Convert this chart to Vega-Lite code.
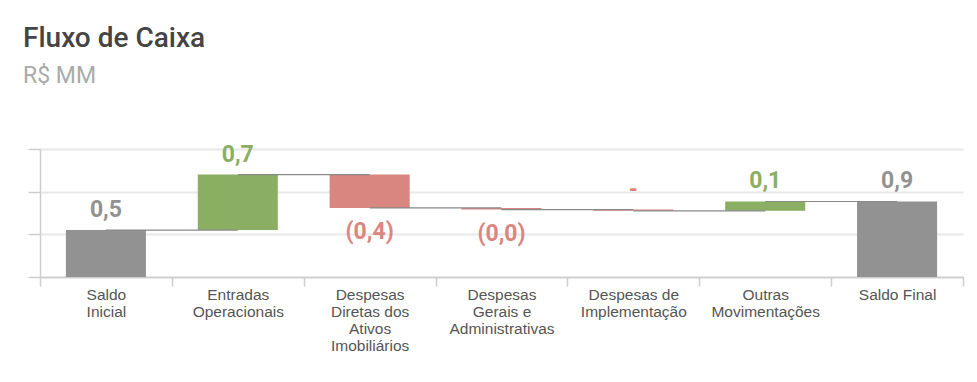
{
  "$schema": "https://vega.github.io/schema/vega-lite/v6.json",
  "width": 923,
  "height": 128,
  "padding": {"left": 23, "top": 24, "right": 14, "bottom": 5},
  "background": "white",
  "title": {
    "text": "Fluxo de Caixa",
    "subtitle": "R$ MM",
    "anchor": "start",
    "frame": "group",
    "dx": -17,
    "offset": 56,
    "font": "Roboto",
    "fontSize": 28,
    "fontWeight": 500,
    "color": "#444444",
    "subtitleFont": "Roboto",
    "subtitleFontSize": 23,
    "subtitleColor": "#aaaaaa",
    "subtitlePadding": 12
  },
  "data": {
    "values": [
      {"categoria": "Saldo\nInicial", "next": "Entradas\nOperacionais", "start": 0, "end": 0.55, "label": "0,5", "tipo": "total"},
      {"categoria": "Entradas\nOperacionais", "next": "Despesas\nDiretas dos\nAtivos\nImobiliários", "start": 0.55, "end": 1.2, "label": "0,7", "tipo": "entrada"},
      {"categoria": "Despesas\nDiretas dos\nAtivos\nImobiliários", "next": "Despesas\nGerais e\nAdministrativas", "start": 1.2, "end": 0.81, "label": "(0,4)", "tipo": "saida"},
      {"categoria": "Despesas\nGerais e\nAdministrativas", "next": "Despesas de\nImplementação", "start": 0.81, "end": 0.79, "label": "(0,0)", "tipo": "saida"},
      {"categoria": "Despesas de\nImplementação", "next": "Outras\nMovimentações", "start": 0.79, "end": 0.775, "label": "-", "tipo": "saida"},
      {"categoria": "Outras\nMovimentações", "next": "Saldo Final", "start": 0.775, "end": 0.885, "label": "0,1", "tipo": "entrada"},
      {"categoria": "Saldo Final", "next": null, "start": 0, "end": 0.885, "label": "0,9", "tipo": "total"}
    ]
  },
  "encoding": {
    "x": {
      "field": "categoria",
      "type": "nominal",
      "sort": null,
      "scale": {"paddingInner": 0, "paddingOuter": 0},
      "axis": {
        "title": null,
        "labelAngle": 0,
        "labelExpr": "split(datum.label, '\\n')",
        "labelFont": "Liberation Sans",
        "labelFontSize": 15.5,
        "labelColor": "#555555",
        "labelLineHeight": 17,
        "labelPadding": 1,
        "tickBand": "extent",
        "tickSize": 9,
        "tickColor": "#cccccc",
        "tickWidth": 1.5,
        "domainColor": "#cccccc",
        "domainWidth": 1.5,
        "grid": false
      }
    }
  },
  "layer": [
    {
      "mark": {"type": "bar", "width": {"band": 0.607}},
      "encoding": {
        "y": {
          "field": "start",
          "type": "quantitative",
          "scale": {"domain": [0, 1.5], "nice": false},
          "axis": {
            "title": null,
            "labels": false,
            "values": [0, 0.5, 1, 1.5],
            "grid": true,
            "gridColor": "#e8e8e8",
            "gridWidth": 2,
            "tickSize": 12,
            "tickColor": "#cccccc",
            "tickWidth": 1.5,
            "domainColor": "#cccccc",
            "domainWidth": 1.5
          }
        },
        "y2": {"field": "end"},
        "color": {
          "field": "tipo",
          "type": "nominal",
          "scale": {"domain": ["total", "entrada", "saida"], "range": ["#929292", "#8aae62", "#d98681"]},
          "legend": null
        }
      }
    },
    {
      "transform": [{"filter": "datum.next != null"}],
      "mark": {"type": "rule", "color": "#888888", "strokeWidth": 1.2},
      "encoding": {
        "y": {"field": "end", "type": "quantitative"},
        "x2": {"field": "next"}
      }
    },
    {
      "transform": [{"filter": "datum.tipo != 'saida'"}],
      "mark": {"type": "text", "font": "Roboto", "fontSize": 23, "fontWeight": "bold", "baseline": "alphabetic", "dy": -13},
      "encoding": {
        "y": {"field": "end", "type": "quantitative"},
        "text": {"field": "label"},
        "color": {
          "field": "tipo",
          "type": "nominal",
          "scale": {"domain": ["total", "entrada", "saida"], "range": ["#929292", "#8aae62", "#d98681"]},
          "legend": null
        }
      }
    },
    {
      "transform": [{"filter": "datum.label == '-'"}],
      "mark": {"type": "text", "font": "Roboto", "fontSize": 23, "fontWeight": "bold", "baseline": "alphabetic", "dy": -13},
      "encoding": {
        "y": {"field": "start", "type": "quantitative"},
        "text": {"field": "label"},
        "color": {
          "field": "tipo",
          "type": "nominal",
          "scale": {"domain": ["total", "entrada", "saida"], "range": ["#929292", "#8aae62", "#d98681"]},
          "legend": null
        }
      }
    },
    {
      "transform": [{"filter": "datum.tipo == 'saida' && datum.label != '-'"}],
      "mark": {"type": "text", "font": "Roboto", "fontSize": 23, "fontWeight": "bold", "baseline": "alphabetic", "dy": 31},
      "encoding": {
        "y": {"field": "end", "type": "quantitative"},
        "text": {"field": "label"},
        "color": {
          "field": "tipo",
          "type": "nominal",
          "scale": {"domain": ["total", "entrada", "saida"], "range": ["#929292", "#8aae62", "#d98681"]},
          "legend": null
        }
      }
    }
  ],
  "config": {
    "view": {"stroke": null}
  }
}
